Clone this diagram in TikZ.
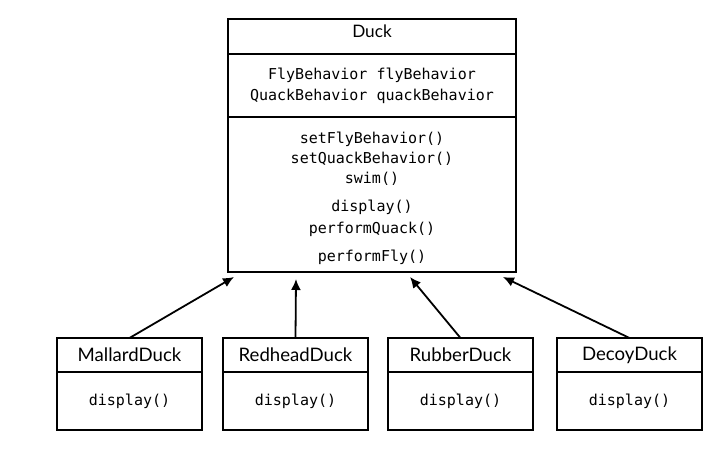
\documentclass[tikz,border=0pt]{standalone}
\usepackage{fontspec}
\setmainfont{Lato}
\setmonofont{DejaVu Sans Mono}
\usetikzlibrary{positioning,arrows.meta}

\tikzset{
  part/.style={draw, line width=1.1pt, inner sep=0pt, outer sep=0pt, align=center},
  topname/.style={part, minimum width=144pt, minimum height=17.5pt,
    font=\fontsize{8.6}{10}\selectfont, text depth=5.5pt},
  topattr/.style={part, minimum width=144pt, minimum height=31.5pt,
    font=\ttfamily\fontsize{7.5}{10.5}\selectfont},
  topops/.style={part, minimum width=144pt, minimum height=77.5pt,
    font=\ttfamily\fontsize{7.5}{10.5}\selectfont},
  subname/.style={part, minimum width=72.5pt, minimum height=17pt,
    font=\fontsize{9.3}{10}\selectfont},
  subbody/.style={part, minimum width=72.5pt, minimum height=29pt,
    font=\ttfamily\fontsize{7.5}{9}\selectfont},
  isa/.style={-{Latex[length=5.5pt,width=5pt]}, line width=0.9pt}
}

\begin{document}
\begin{tikzpicture}[x=0.5pt, y=-0.5pt]
\useasboundingbox (0,0) rectangle (720,454);

% superclass
\node[topname] (duck) at (372,36.5) {Duck};
\node[topattr, below=0pt of duck] (duckattr)
  {FlyBehavior flyBehavior\\QuackBehavior quackBehavior};
\node[topops, below=0pt of duckattr] (duckops)
  {\rule{0pt}{9.5pt}setFlyBehavior()\\[-0.5pt]setQuackBehavior()\\[-0.5pt]swim()\\[3.5pt]
   display()\\[0.5pt]performQuack()\\[3.5pt]performFly()};

% subclasses
\node[subname] (mallard) at (129.5,355) {MallardDuck};
\node[subbody, below=0pt of mallard] (mallardbody) {display()};
\node[subname, right=10.5pt of mallard] (redhead) {RedheadDuck};
\node[subbody, below=0pt of redhead] (redheadbody) {display()};
\node[subname, right=10pt of redhead] (rubber) {RubberDuck};
\node[subbody, below=0pt of rubber] (rubberbody) {display()};
\node[subname, right=12pt of rubber] (decoy) {DecoyDuck};
\node[subbody, below=0pt of decoy] (decoybody) {display()};

\coordinate (inA) at ([xshift=3pt, yshift=-2.5pt]duckops.south west);
\coordinate (inB) at ([xshift=34pt, yshift=-3.5pt]duckops.south west);
\coordinate (inC) at ([xshift=91pt, yshift=-2.5pt]duckops.south west);
\coordinate (inD) at ([xshift=137.5pt, yshift=-2.5pt]duckops.south west);

\draw[isa] (mallard.north) -- (inA);
\draw[isa] (redhead.north) -- (inB);
\draw[isa] (rubber.north) -- (inC);
\draw[isa] (decoy.north) -- (inD);

\end{tikzpicture}
\end{document}
